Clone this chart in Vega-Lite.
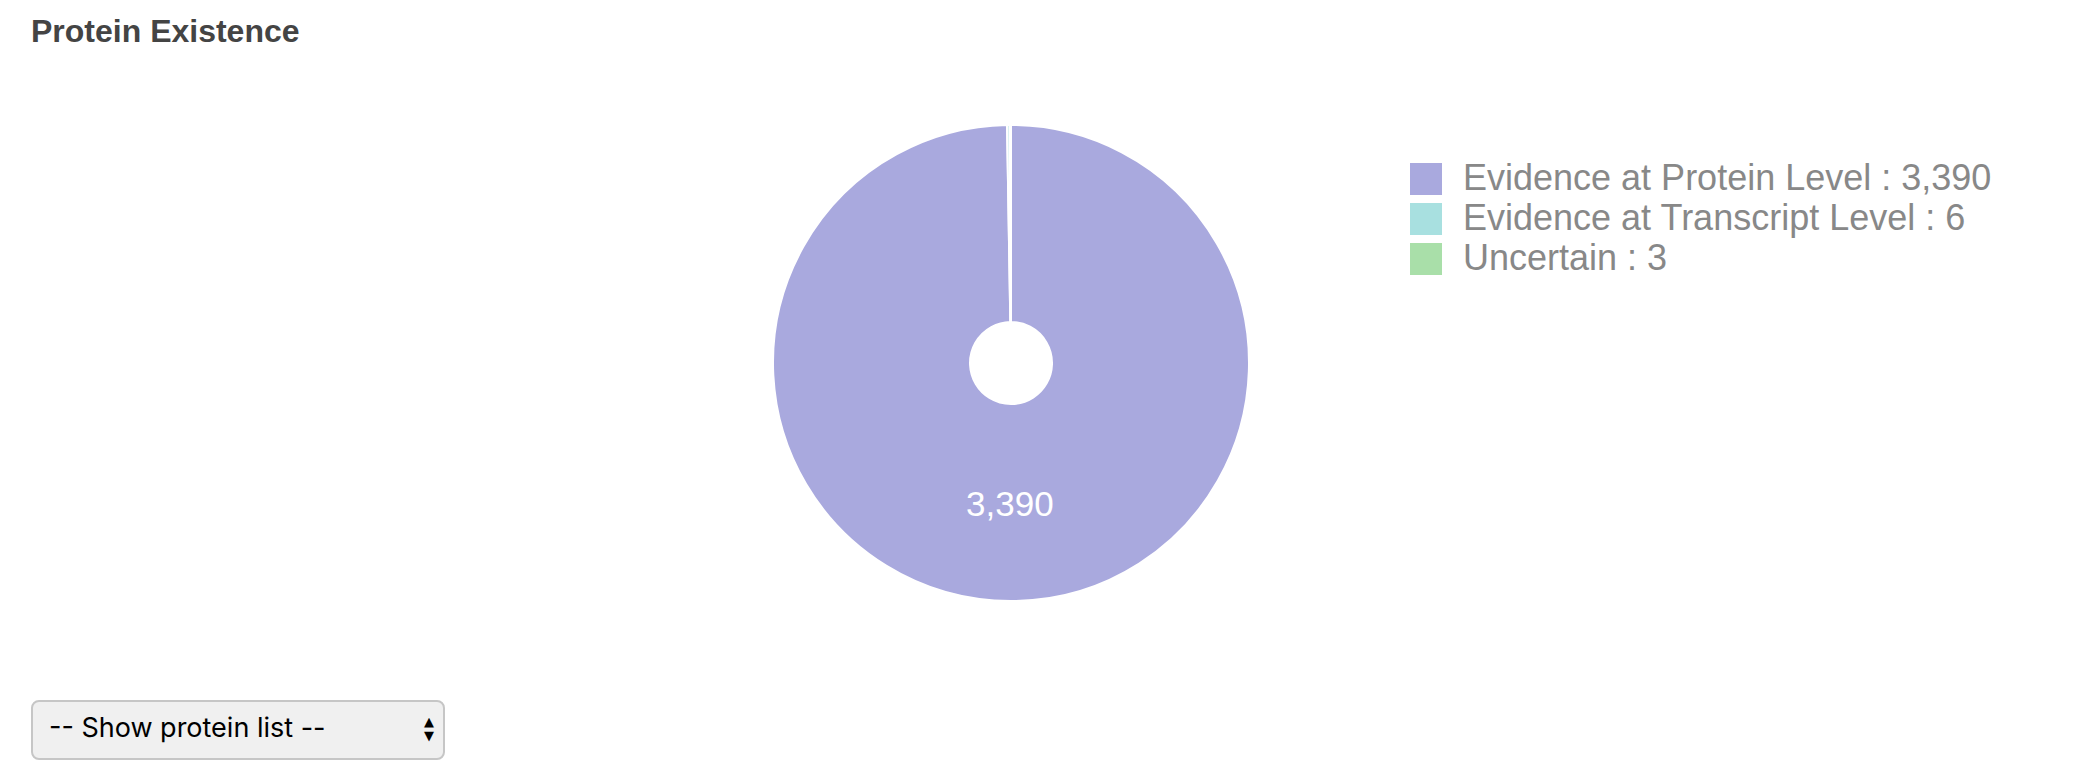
{
  "$schema": "https://vega.github.io/schema/vega-lite/v6.json",
  "background": "white",
  "padding": {"left": 31, "top": 16, "right": 95, "bottom": 27},
  "title": {
    "text": "Protein Existence",
    "anchor": "start",
    "frame": "group",
    "font": "Liberation Sans",
    "fontSize": 32,
    "fontWeight": "bold",
    "color": "#444444",
    "offset": 12,
    "dx": -1
  },
  "config": {"view": {"stroke": null}},
  "spacing": 35,
  "vconcat": [
    {
      "width": 1958,
      "height": 604,
      "data": {
        "values": [
          {"category": "Evidence at Protein Level", "count": 3390, "label": "Evidence at Protein Level : 3,390"},
          {"category": "Evidence at Transcript Level", "count": 6, "label": "Evidence at Transcript Level : 6"},
          {"category": "Uncertain", "count": 3, "label": "Uncertain : 3"}
        ]
      },
      "layer": [
        {
          "mark": {"type": "arc", "outerRadius": 238, "innerRadius": 41, "stroke": "white", "strokeWidth": 2},
          "encoding": {
            "theta": {"field": "count", "type": "quantitative", "stack": true},
            "color": {
              "field": "label",
              "type": "nominal",
              "scale": {
                "domain": ["Evidence at Protein Level : 3,390", "Evidence at Transcript Level : 6", "Uncertain : 3"],
                "range": ["#a9a9de", "#a8e0e0", "#a9dfa9"]
              },
              "legend": {
                "title": null,
                "orient": "none",
                "legendX": 1376,
                "legendY": 100,
                "symbolType": "square",
                "symbolSize": 1024,
                "symbolStrokeWidth": 0,
                "labelFont": "Liberation Sans",
                "labelFontSize": 36,
                "labelColor": "#888888",
                "labelOffset": 19,
                "labelLimit": 800,
                "rowPadding": 4,
                "padding": 0
              }
            }
          }
        },
        {
          "mark": {"type": "text", "radius": 142, "fill": "white", "font": "Liberation Sans", "fontSize": 35, "baseline": "middle", "align": "center"},
          "encoding": {
            "theta": {"field": "count", "type": "quantitative", "stack": true},
            "detail": {"field": "label", "type": "nominal"},
            "text": {"condition": {"test": "datum.count > 100", "field": "count", "format": ","}, "value": ""}
          }
        }
      ]
    },
    {
      "width": 412,
      "height": 58,
      "data": {"values": [{"option": "-- Show protein list --"}]},
      "layer": [
        {
          "mark": {"type": "rect", "fill": "#f0f0f0", "stroke": "#c6c6c6", "strokeWidth": 2, "cornerRadius": 7},
          "encoding": {}
        },
        {
          "mark": {"type": "text", "align": "left", "baseline": "middle", "dx": 17, "dy": -1, "font": "Inter", "fontSize": 27, "fill": "black"},
          "encoding": {
            "x": {"datum": 0, "type": "quantitative", "scale": {"domain": [0, 1]}, "axis": null},
            "text": {"field": "option"}
          }
        },
        {
          "mark": {"type": "text", "align": "right", "baseline": "middle", "dx": -10, "dy": -8, "font": "DejaVu Sans", "fontSize": 13, "fill": "black", "text": "▲"},
          "encoding": {
            "x": {"datum": 1, "type": "quantitative", "scale": {"domain": [0, 1]}, "axis": null}
          }
        },
        {
          "mark": {"type": "text", "align": "right", "baseline": "middle", "dx": -10, "dy": 6, "font": "DejaVu Sans", "fontSize": 13, "fill": "black", "text": "▼"},
          "encoding": {
            "x": {"datum": 1, "type": "quantitative", "scale": {"domain": [0, 1]}, "axis": null}
          }
        }
      ]
    }
  ]
}
